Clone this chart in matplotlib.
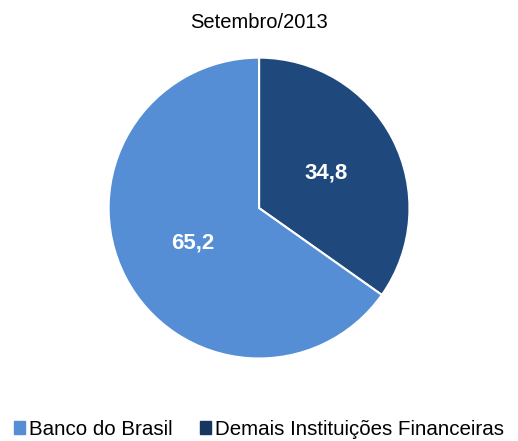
import matplotlib
matplotlib.use('Agg')
import matplotlib.pyplot as plt
from matplotlib.patches import Patch

plt.rcParams['font.family'] = ['Liberation Sans', 'DejaVu Sans']

labels = ['Demais Instituições Financeiras', 'Banco do Brasil']
values = [34.8, 65.2]
colors = ['#1F497D', '#558ED5']

fig = plt.figure(figsize=(5.18, 4.41), dpi=100)
ax = fig.add_axes([0.2066, 0.1837, 0.587, 0.689])

wedges, texts, autotexts = ax.pie(values, colors=colors, startangle=90, counterclock=False,
                                  autopct=lambda p: ('%.1f' % p).replace('.', ','),
                                  pctdistance=0.5,
                                  wedgeprops=dict(edgecolor='white', linewidth=1.5))
for t in autotexts:
    t.set_color('white')
    t.set_fontsize(16)
    t.set_fontweight('bold')
ax.set_xlim(-1.01, 1.01)
ax.set_ylim(-1.01, 1.01)
ax.set_aspect('equal')

fig.text(0.5, 0.948, 'Setembro/2013', ha='center', va='center', fontsize=14.5)

handles = [Patch(color=colors[1], label=labels[1]), Patch(color='#17375E', label=labels[0])]
fig.legend(handles=handles, loc='center', bbox_to_anchor=(0.5, 0.027), ncol=2, frameon=False,
           fontsize=14.8, handlelength=0.55, handleheight=0.55, handletextpad=0.2, columnspacing=1.3)

fig.savefig('out.png', dpi=100)
